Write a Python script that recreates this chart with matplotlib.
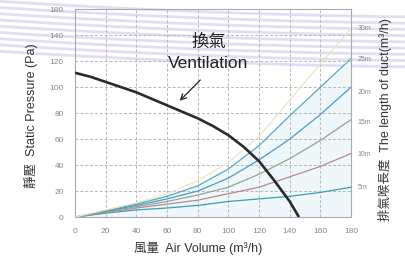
import numpy as np
import matplotlib
matplotlib.use("Agg")
import matplotlib.pyplot as plt
from matplotlib.lines import Line2D

plt.rcParams['font.family'] = ['Liberation Sans', 'Noto Sans CJK TC', 'DejaVu Sans']

# fan curve (ventilation)
fan_x = [0, 10, 20, 30, 40, 50, 60, 70, 80, 90, 100, 110, 120, 130, 140, 146]
fan_y = [111, 108, 104, 100, 96, 91, 86, 81, 76, 70, 63, 54, 43, 28, 12, 0]

# duct length curves
duct_x = [0, 20, 40, 60, 80, 100, 120, 140, 160, 180]
duct_5 = [0, 3, 5.5, 7, 9, 12, 14, 16, 19, 23]
duct_10 = [0, 3.5, 7, 10, 13, 18, 23, 31, 39, 49]
duct_15 = [0, 4, 8, 12, 17, 23, 33, 45, 59, 75]
duct_20 = [0, 4.5, 9, 14, 20, 30, 44, 60, 79, 100]
duct_25 = [0, 5, 10, 16, 24, 37, 55, 78, 100, 122]
duct_30 = [0, 5.5, 11, 18, 28, 42, 62, 90, 118, 145]

duct_names = ['5m', '10m', '15m', '20m', '25m', '30m']
duct_label_y = [23, 48, 73, 96, 121, 145]
duct_colors = ['#3a9db5', '#b9878f', '#93a68c', '#4f97c9', '#5aa8bb', '#f1e3c4']

x_ticks = [0, 20, 40, 60, 80, 100, 120, 140, 160, 180]
y_ticks = [0, 20, 40, 60, 80, 100, 120, 140, 160]
y_tick_labels = ['0', '20', '40', '60', '80', '100', '120', '140', '180']

fig = plt.figure(figsize=(4.05, 2.6), dpi=100)

# decorative lavender stripes in the top-left
u = np.linspace(0, 1, 50)
for i in range(9):
    a = 0.995 - i * 0.024
    fig.add_artist(Line2D(u, a - 0.10 * u + 0.04 * u ** 2, color='#cfcfec',
                          lw=2.0, alpha=0.65, zorder=0))

ax = fig.add_axes([0.185, 0.165, 0.682, 0.80])
ax.set_facecolor('none')

series = [duct_5, duct_10, duct_15, duct_20, duct_25, duct_30]
ax.fill_between(duct_x, 0, duct_25, color='#eef8fa', zorder=1)
for ys, c in zip(series, duct_colors):
    ax.plot(duct_x, ys, color=c, lw=0.9, zorder=3)
for name, yl in zip(duct_names, duct_label_y):
    ax.text(184, yl, name, fontsize=5, color='#888888', va='center', ha='left',
            clip_on=False)

ax.plot(fan_x, fan_y, color='#2b2b2b', lw=1.9, zorder=4, solid_capstyle='butt')

ax.text(87, 135, '換氣', fontsize=12.5, ha='center', va='center', color='#222222')
ax.text(87, 118, 'Ventilation', fontsize=12.5, ha='center', va='center', color='#222222')
ax.annotate('', xy=(67, 88), xytext=(83, 107),
            arrowprops=dict(arrowstyle='->', lw=0.9, color='#222222'))

ax.set_xlim(0, 180)
ax.set_ylim(0, 160)
ax.set_xticks(x_ticks)
ax.set_yticks(y_ticks)
ax.set_yticklabels(y_tick_labels)
ax.tick_params(length=0, labelsize=6, colors='#888888', pad=8)
ax.grid(True, color='#b8b8b8', lw=0.7, ls=(0, (3, 2)))
for s in ax.spines.values():
    s.set_color('#aaaaaa')
    s.set_linewidth(0.8)

fig.text(0.076, 0.555, '靜壓  Static Pressure (Pa)', rotation=90, fontsize=9,
         ha='center', va='center', color='#333333')
fig.text(0.95, 0.54, '排氣喉長度  The length of duct(m³/h)', rotation=90, fontsize=9,
         ha='center', va='center', color='#333333')
fig.text(0.49, 0.045, '風量  Air Volume (m³/h)', fontsize=9,
         ha='center', va='center', color='#333333')

fig.savefig('out.png', dpi=100)
